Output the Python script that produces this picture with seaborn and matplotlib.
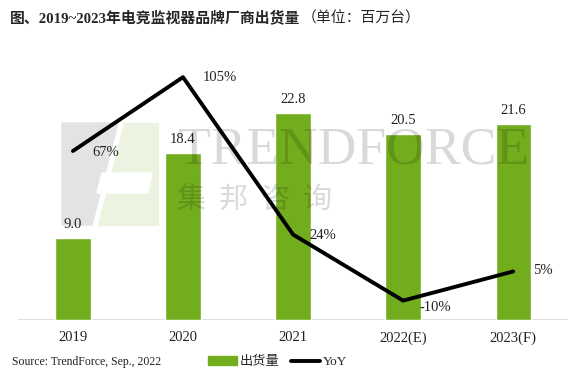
import pandas as pd
import seaborn as sns
import matplotlib.pyplot as plt
from matplotlib.patches import Patch, Polygon
from matplotlib.lines import Line2D

sns.set_theme(style="white")
plt.rcParams['font.family'] = ['Liberation Serif', 'Noto Sans CJK SC', 'DejaVu Sans']

# data
years = ["2019", "2020", "2021", "2022(E)", "2023(F)"]
shipments = [9.0, 18.4, 22.8, 20.5, 21.6]
yoy = [67, 105, 24, -10, 5]
yoy_labels = ["67%", "105%", "24%", "-10%", "5%"]

df = pd.DataFrame({"year": years, "shipments": shipments, "yoy": yoy})

green = "#72ad1e"
W, H = 578, 381

fig = plt.figure(figsize=(W / 100, H / 100), dpi=100)


def px(pts):
    return [(x / W, 1 - y / H) for x, y in pts]


# watermark logo (behind everything)
fig.patches.append(Polygon(px([(62, 123), (118, 123), (92, 225), (62, 225)]), closed=True,
                           transform=fig.transFigure, color="#e3e3e3", zorder=-2))
fig.patches.append(Polygon(px([(124, 123), (158, 123), (158, 225), (98, 225)]), closed=True,
                           transform=fig.transFigure, color="#ecf3e0", zorder=-2))
fig.patches.append(Polygon(px([(102, 173), (152, 173), (148, 193), (97, 193)]), closed=True,
                           transform=fig.transFigure, color="white", zorder=-1))

ax = fig.add_axes([0.031, 0.160, 0.952, 0.714])

sns.barplot(data=df, x="year", y="shipments", color=green, width=0.32, saturation=1, ax=ax, zorder=2)
for i, v in enumerate(shipments):
    ax.text(i, v + 0.8, f"{v:.1f}", ha="center", va="bottom", fontsize=10.5, color="#222222")

ax.set_ylim(0, 30)
ax.set_xlim(-0.5, 4.5)
ax.set_yticks([])
ax.set_xlabel("")
ax.set_ylabel("")
ax.axhline(0, color="#d9d9d9", lw=1.2, zorder=1)
for s in ax.spines.values():
    s.set_visible(False)
ax.tick_params(axis="x", length=0, labelsize=10.5, pad=8, colors="#222222")
ax.patch.set_alpha(0)

ax2 = ax.twinx()
sns.lineplot(x=range(len(years)), y=yoy, color="black", lw=2.8, ax=ax2, zorder=3)
ax2.set_ylim(-20, 120)
ax2.set_yticks([])
for s in ax2.spines.values():
    s.set_visible(False)
offsets = [(14, -1), (14, 0), (12, -1), (12, -5), (14, 1)]
for i, (v, lab) in enumerate(zip(yoy, yoy_labels)):
    ax2.annotate(lab, (i, v), xytext=offsets[i], textcoords="offset points",
                 ha="left", va="center", fontsize=10.5, color="#222222")

# watermark text, semi-transparent on top
fig.text(178 / W, 1 - 151 / H, "TRENDFORCE", fontsize=38.5, color="black", alpha=0.15,
         ha="left", va="center", family="Liberation Serif", zorder=5)
for k, ch in enumerate("集邦咨询"):
    fig.text((191 + 42 * k) / W, 1 - 200 / H, ch, fontsize=21, color="black", alpha=0.15,
             ha="center", va="center", family="Noto Sans CJK SC", zorder=5)

t1 = fig.text(10 / W, 1 - 18 / H, "图、2019~2023年电竞监视器品牌厂商出货量", fontsize=10.7,
              fontweight="bold", ha="left", va="center",
              family=["Liberation Serif", "Noto Sans CJK SC"])
fig.canvas.draw()
bb = t1.get_window_extent()
fig.text((bb.x1 + 1) / W, 1 - 18 / H, "（单位：百万台）", fontsize=10.7, ha="left", va="center",
         family="Noto Sans CJK SC")

fig.text(12 / W, 1 - 362 / H, "Source: TrendForce, Sep., 2022", fontsize=8.5, ha="left", va="center",
         color="#222222")

handles = [Patch(color=green, label="出货量"), Line2D([0], [0], color="black", lw=2.8, label="YoY")]
fig.legend(handles=handles, loc="center left", bbox_to_anchor=(196 / W, 1 - 362 / H), ncol=2,
           frameon=False, handlelength=2.2, handleheight=0.6, columnspacing=0.9, handletextpad=0.2,
           prop={"family": ["Liberation Serif", "Noto Sans CJK SC"], "size": 9.5})

fig.savefig("out.png", dpi=100)
